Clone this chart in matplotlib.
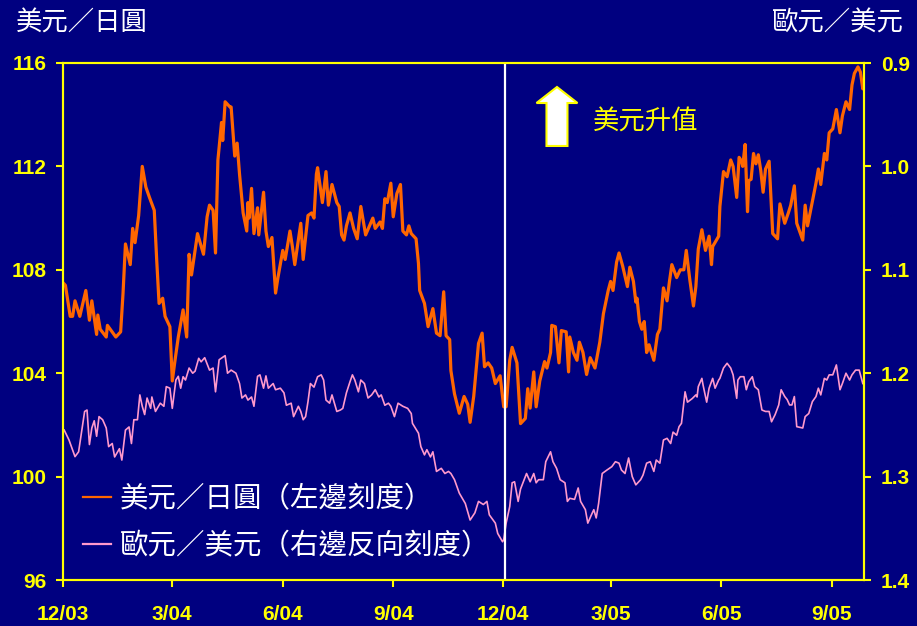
import pandas as pd
import matplotlib
matplotlib.use("Agg")
import matplotlib.pyplot as plt
from matplotlib.patches import FancyArrow

cjk = ['Noto Sans CJK TC', 'DejaVu Sans']
num_font = ['Liberation Sans', 'DejaVu Sans']

navy = '#000080'
yellow = '#FFFF00'
orange = '#FF6600'
pink = '#FF99CC'

start = pd.Timestamp('2003-12-01')
end = pd.Timestamp('2005-09-28')
marker_date = pd.Timestamp('2004-12-03')

# 美元／日圓 (日數 = 自 2003-12-01 起)
jpy_days = [0, 2, 6, 8, 10, 14, 19, 22, 24, 28, 29, 31, 36, 37, 44, 48, 50, 52, 56, 58,
            60, 63, 66, 69, 72, 76, 78, 80, 83, 85, 89, 91, 93, 96, 100, 103, 105, 107, 112, 117,
            120, 122, 125, 127, 129, 132, 133, 135, 139, 140, 143, 145, 147, 150, 153, 154, 155, 157, 159, 162,
            163, 167, 169, 171, 174, 177, 179, 183, 185, 189, 191, 193, 198, 200, 204, 207, 209, 211, 212, 216,
            219, 221, 224, 228, 230, 232, 234, 236, 239, 242, 245, 248, 252, 258, 260, 264, 266, 268, 270, 273,
            275, 278, 281, 283, 286, 288, 290, 294, 296, 297, 301, 304, 308, 311, 314, 317, 319, 322, 323, 326,
            330, 334, 337, 339, 342, 346, 349, 351, 354, 357, 360, 364, 367, 369, 372, 374, 378, 381, 385, 387,
            389, 392, 394, 397, 401, 403, 406, 407, 410, 413, 415, 419, 421, 422, 425, 428, 430, 433, 436, 439,
            443, 447, 450, 454, 456, 458, 461, 463, 466, 470, 472, 475, 477, 478, 480, 482, 484, 486, 488, 492,
            495, 497, 500, 503, 505, 507, 511, 514, 517, 519, 522, 525, 527, 529, 532, 535, 538, 540, 541, 546,
            547, 550, 553, 556, 558, 561, 563, 565, 566, 568, 570, 571, 573, 575, 577, 579, 581, 583, 585, 588,
            591, 595, 597, 601, 604, 606, 609, 611, 616, 618, 620, 624, 627, 629, 631, 634, 636, 638, 641, 644,
            647, 649, 652, 655, 657, 659, 662, 664, 666, 667]
jpy_rate = [107.5, 107.4, 106.2, 106.2, 106.8, 106.2, 107.2, 106.05, 106.8, 105.5, 106.25, 105.7, 105.4, 105.85, 105.4, 105.6, 107.1, 109.0, 108.2, 109.6,
            109.05, 110.1, 112.0, 111.2, 110.8, 110.3, 108.4, 106.7, 106.9, 106.2, 105.8, 103.7, 104.4, 105.4, 106.45, 105.4, 108.6, 107.8, 109.4, 108.6,
            110.05, 110.5, 110.3, 108.65, 112.25, 113.7, 113.0, 114.5, 114.3, 114.3, 112.4, 112.9, 111.7, 110.2, 109.5, 110.6, 110.0, 111.15, 109.4, 110.4,
            109.35, 111.0, 109.5, 108.9, 109.25, 107.1, 107.7, 108.75, 108.4, 109.5, 108.9, 108.2, 109.8, 108.4, 110.1, 110.2, 110.0, 111.7, 111.95, 110.6,
            111.8, 110.5, 111.3, 110.6, 110.45, 109.35, 109.15, 109.7, 110.2, 109.6, 109.2, 110.45, 109.35, 110.0, 109.6, 109.85, 109.6, 110.75, 110.6, 111.35,
            110.05, 110.95, 111.3, 109.5, 109.35, 109.7, 109.4, 109.2, 108.25, 107.2, 106.7, 105.8, 106.5, 105.55, 105.45, 107.15, 105.45, 105.3, 104.1, 103.2,
            102.45, 103.1, 102.8, 102.1, 103.1, 105.15, 105.55, 104.25, 104.4, 104.2, 103.6, 103.9, 102.7, 102.7, 104.5, 105.0, 104.4, 102.05, 102.25, 103.4,
            102.65, 104.05, 102.7, 103.7, 104.45, 104.2, 104.8, 105.85, 105.8, 104.4, 105.65, 105.6, 104.05, 105.4, 104.8, 104.5, 105.2, 104.8, 103.95, 104.6,
            104.2, 105.2, 106.3, 107.2, 107.55, 107.2, 108.3, 108.65, 108.15, 107.35, 108.1, 107.55, 106.75, 106.9, 106.0, 105.7, 106.0, 104.8, 105.1, 104.5,
            105.5, 105.7, 107.3, 106.8, 107.55, 108.2, 107.7, 108.0, 108.0, 108.75, 107.6, 106.6, 107.35, 108.8, 109.55, 108.75, 109.3, 108.2, 108.9, 109.3,
            110.45, 111.8, 111.6, 112.25, 112.0, 110.8, 112.35, 112.2, 112.0, 112.85, 110.25, 111.45, 111.5, 112.5, 112.1, 112.45, 111.85, 111.0, 111.9, 112.2,
            109.4, 109.2, 110.55, 109.8, 110.2, 110.5, 111.25, 109.8, 109.15, 110.5, 109.7, 110.65, 111.35, 111.9, 111.3, 112.5, 112.25, 113.3, 113.45, 114.2,
            113.3, 113.95, 114.5, 114.2, 115.15, 115.6, 115.85, 115.65, 115.0, 115.1]

# 歐元／美元 (日數 = 自 2003-12-01 起)
eur_days = [1, 5, 10, 13, 18, 20, 22, 24, 26, 28, 30, 33, 36, 38, 41, 43, 47, 49, 52, 55,
            57, 59, 62, 64, 66, 68, 70, 73, 74, 77, 81, 84, 86, 89, 91, 94, 96, 98, 100, 102,
            105, 108, 110, 113, 115, 118, 120, 122, 125, 127, 130, 135, 137, 140, 144, 147, 149, 152, 154, 157,
            159, 162, 164, 167, 169, 171, 175, 177, 181, 184, 186, 190, 192, 196, 198, 200, 202, 204, 206, 209,
            212, 215, 217, 219, 222, 224, 228, 231, 233, 236, 239, 241, 243, 246, 248, 251, 254, 257, 260, 263,
            265, 268, 271, 273, 276, 279, 283, 287, 290, 291, 296, 298, 301, 303, 306, 308, 311, 315, 318, 321,
            323, 326, 330, 335, 339, 343, 346, 350, 353, 355, 360, 362, 366, 367, 369, 372, 374, 376, 379, 381,
            386, 389, 392, 394, 396, 400, 402, 406, 408, 411, 414, 418, 420, 422, 426, 429, 431, 435, 437, 440,
            442, 444, 446, 449, 453, 457, 460, 463, 465, 468, 471, 474, 477, 481, 483, 486, 489, 492, 494, 497,
            500, 503, 506, 508, 511, 513, 515, 518, 520, 524, 527, 528, 529, 532, 533, 536, 538, 541, 543, 546,
            547, 550, 553, 556, 558, 561, 562, 564, 567, 569, 571, 574, 576, 579, 582, 585, 588, 590, 593, 596,
            598, 601, 603, 605, 607, 609, 611, 616, 618, 621, 624, 627, 629, 631, 634, 636, 638, 641, 644, 647,
            649, 652, 655, 657, 660, 663, 666]
eur_rate = [1.255, 1.2646, 1.2807, 1.276, 1.237, 1.2356, 1.269, 1.253, 1.246, 1.261, 1.242, 1.245, 1.253, 1.271, 1.268, 1.281, 1.273, 1.284, 1.255, 1.252,
            1.268, 1.245, 1.245, 1.221, 1.232, 1.240, 1.224, 1.234, 1.223, 1.237, 1.229, 1.232, 1.213, 1.2145, 1.234, 1.2066, 1.203, 1.2145, 1.2034, 1.2066,
            1.195, 1.2, 1.198, 1.1856, 1.189, 1.185, 1.191, 1.197, 1.195, 1.218, 1.187, 1.183, 1.2, 1.197, 1.2, 1.21, 1.224, 1.221, 1.226, 1.223,
            1.232, 1.203, 1.2016, 1.2145, 1.2026, 1.2145, 1.21, 1.216, 1.2145, 1.219, 1.231, 1.229, 1.242, 1.232, 1.237, 1.245, 1.242, 1.2276, 1.21, 1.2135,
            1.2034, 1.2016, 1.2066, 1.226, 1.229, 1.221, 1.237, 1.2356, 1.234, 1.219, 1.2082, 1.2016, 1.2066, 1.218, 1.2066, 1.21, 1.224, 1.221, 1.216, 1.223,
            1.221, 1.231, 1.229, 1.232, 1.242, 1.229, 1.232, 1.234, 1.239, 1.2485, 1.258, 1.271, 1.279, 1.274, 1.281, 1.276, 1.295, 1.292, 1.297, 1.295,
            1.297, 1.303, 1.316, 1.326, 1.342, 1.335, 1.324, 1.327, 1.324, 1.337, 1.345, 1.355, 1.363, 1.361, 1.345, 1.329, 1.306, 1.305, 1.324, 1.312,
            1.297, 1.305, 1.297, 1.306, 1.303, 1.303, 1.2856, 1.276, 1.2856, 1.292, 1.303, 1.306, 1.324, 1.321, 1.322, 1.311, 1.324, 1.332, 1.345, 1.337,
            1.332, 1.340, 1.326, 1.297, 1.2936, 1.2904, 1.2856, 1.287, 1.2936, 1.297, 1.282, 1.300, 1.308, 1.303, 1.2985, 1.287, 1.2856, 1.295, 1.284, 1.287,
            1.2646, 1.263, 1.268, 1.257, 1.260, 1.2517, 1.2485, 1.218, 1.228, 1.2245, 1.221, 1.223, 1.213, 1.205, 1.2115, 1.228, 1.2145, 1.205, 1.2145, 1.2066,
            1.205, 1.195, 1.1904, 1.195, 1.2016, 1.2243, 1.2066, 1.2034, 1.2034, 1.216, 1.2082, 1.2034, 1.2130, 1.216, 1.2356, 1.237, 1.237, 1.247, 1.24, 1.2307,
            1.216, 1.2226, 1.2255, 1.2307, 1.2307, 1.2226, 1.2517, 1.253, 1.242, 1.239, 1.2275, 1.2226, 1.2145, 1.221, 1.205, 1.2066, 1.2016, 1.2016, 1.192, 1.216,
            1.21, 1.2, 1.2066, 1.2016, 1.197, 1.197, 1.21]

tick_dates = ['2003-12-01', '2004-03-01', '2004-06-01', '2004-09-01',
              '2004-12-01', '2005-03-01', '2005-06-01', '2005-09-01']
tick_labels = ['12/03', '3/04', '6/04', '9/04', '12/04', '3/05', '6/05', '9/05']
jpy_ticks = [96, 100, 104, 108, 112, 116]
eur_ticks = [0.9, 1.0, 1.1, 1.2, 1.3, 1.4]

jpy_dates = start + pd.to_timedelta(jpy_days, unit='D')
eur_dates = start + pd.to_timedelta(eur_days, unit='D')

fig = plt.figure(figsize=(9.17, 6.26), dpi=100, facecolor=navy)
ax = fig.add_axes([63 / 917, 1 - 580 / 626, 801 / 917, 517 / 626])
ax2 = ax.twinx()
ax.set_zorder(ax2.get_zorder() + 1)
ax.patch.set_visible(False)
ax2.set_facecolor(navy)

l1, = ax.plot(jpy_dates, jpy_rate, color=orange, lw=2.3, label='美元／日圓（左邊刻度）')
l2, = ax2.plot(eur_dates, eur_rate, color=pink, lw=1.2, label='歐元／美元（右邊反向刻度）')
ax.axvline(marker_date, color='white', lw=1.6)

ax.set_xlim(start, end)
ax.set_ylim(96, 116)
ax2.set_ylim(1.4, 0.9)

ax.set_xticks(pd.to_datetime(tick_dates))
ax.set_xticklabels(tick_labels)
ax.set_yticks(jpy_ticks)
ax.set_yticklabels([str(t) for t in jpy_ticks])
ax2.set_yticks(eur_ticks)
ax2.set_yticklabels([f'{t:.1f}' for t in eur_ticks])

for a in (ax, ax2):
    for s in a.spines.values():
        s.set_color(yellow)
        s.set_linewidth(1.5)
    a.tick_params(colors=yellow, width=1.5, length=5, direction='out')
    for lab in a.get_xticklabels() + a.get_yticklabels():
        lab.set_family(num_font)
        lab.set_fontweight('bold')
        lab.set_fontsize(15)
        lab.set_color(yellow)
ax.tick_params(axis='x', pad=13)
ax.tick_params(axis='y', pad=7)
ax2.tick_params(axis='y', pad=7)

fig.text(16 / 917, 1 - 23 / 626, '美元／日圓', color='white', fontsize=19,
         family=cjk, ha='left', va='center')
fig.text(904 / 917, 1 - 23 / 626, '歐元／美元', color='white', fontsize=19,
         family=cjk, ha='right', va='center')

arrow = FancyArrow(0.6167, 0.8395, 0, 0.1141, width=0.0262, head_width=0.0512,
                   head_length=0.031, length_includes_head=True,
                   transform=ax.transAxes, facecolor='white', edgecolor=yellow,
                   lw=1.5, zorder=5)
ax.add_patch(arrow)
ax.text(0.661, 0.885, '美元升值', transform=ax.transAxes, color=yellow,
        fontsize=19, family=cjk, ha='left', va='center')

leg = ax.legend(handles=[l1, l2], loc='upper left', bbox_to_anchor=(0.025, 0.186),
                frameon=False, handlelength=1.0, handletextpad=0.3,
                labelspacing=0.6, borderpad=0, borderaxespad=0,
                prop={'family': cjk, 'size': 20.5})
for t in leg.get_texts():
    t.set_color('white')
for h in leg.get_lines():
    h.set_linewidth(1.6)

fig.savefig('out.png', dpi=100, facecolor=navy)
